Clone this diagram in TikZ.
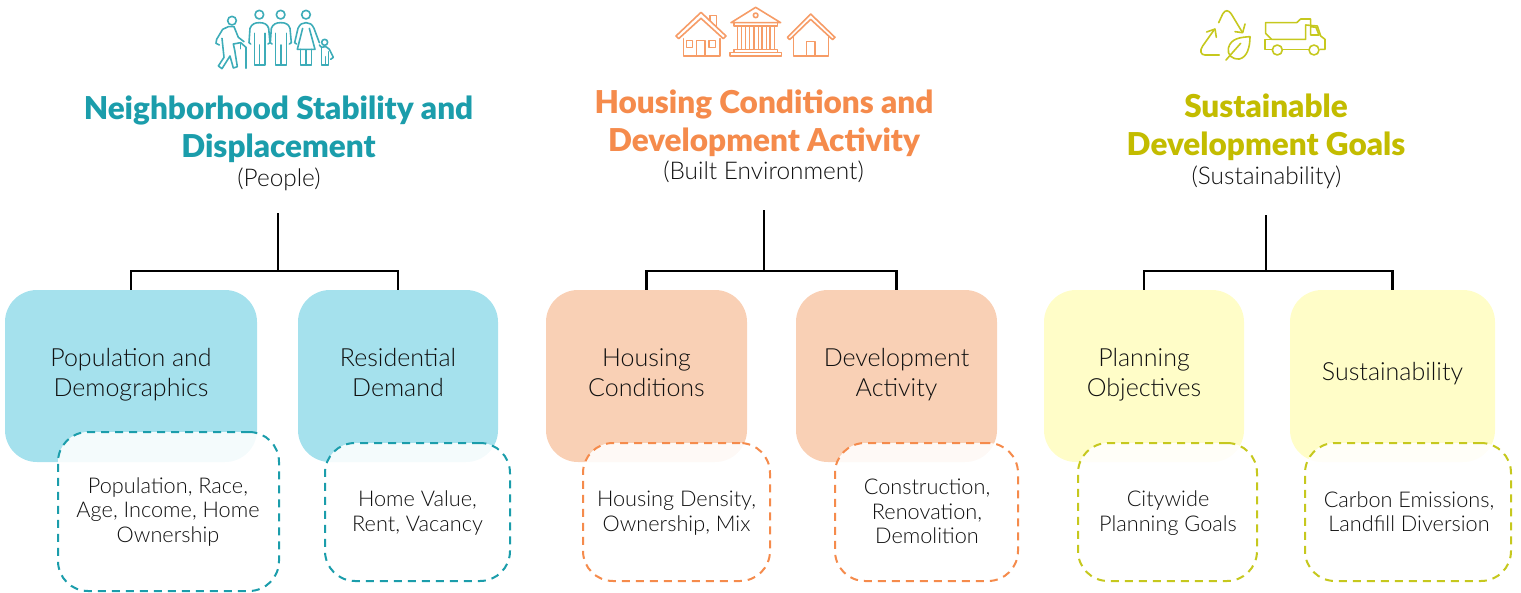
\documentclass[tikz,border=0pt]{standalone}
\usepackage{fontspec}
\setmainfont{Lato Light}
\newfontfamily\titlef{Lato Black}
\definecolor{tealc}{HTML}{1B9DAB}
\definecolor{orangec}{HTML}{F58B4C}
\definecolor{yellowc}{HTML}{C3BC00}
\definecolor{dashy}{HTML}{C6C81E}
\definecolor{lteal}{HTML}{A5E1ED}
\definecolor{lorange}{HTML}{F9D0B5}
\definecolor{lyellow}{HTML}{FFFDC8}
\definecolor{textc}{HTML}{101010}
\newcommand{\twol}[2]{\rule{0pt}{24pt}#1\\#2\rule[-14pt]{0pt}{14pt}}
\newcommand{\onel}[1]{\rule{0pt}{22pt}#1\rule[-14pt]{0pt}{14pt}}
\tikzset{
 box/.style={rounded corners=32pt,inner sep=0pt,align=center,text=textc,font=\fontsize{25}{30}\selectfont},
 dbox/.style={rounded corners=30pt,inner sep=0pt,draw,line width=2pt,dash pattern=on 8pt off 6pt,fill=white,fill opacity=.88},
 dtext/.style={align=center,text=textc,font=\fontsize{21.7}{24.5}\selectfont,inner sep=0pt},
 ttl/.style={align=center,font=\titlef\fontsize{31.5}{38}\selectfont,inner sep=0pt},
 sub/.style={align=center,text=textc,font=\fontsize{24.4}{28}\selectfont,inner sep=0pt},
 conn/.style={draw=black,line width=2.4pt},
 icon/.style={line width=1.6pt,line cap=round,line join=round,fill=none},
}
\begin{document}
\begin{tikzpicture}[x=1pt,y=-1pt]
\useasboundingbox (0,0) rectangle (1521,592);
% solid boxes
\node[box,fill=lteal,minimum width=252pt,minimum height=172pt] (a1) at (131,376) {\twol{Population and}{Demographics}};
\node[box,fill=lteal,minimum width=200pt,minimum height=172pt] (a2) at (398,376) {\twol{Residential}{Demand}};
\node[box,fill=lorange,minimum width=201pt,minimum height=172pt] (b1) at (646.5,376) {\twol{Housing}{Conditions}};
\node[box,fill=lorange,minimum width=201pt,minimum height=172pt] (b2) at (896.5,376) {\twol{Development}{Activity}};
\node[box,fill=lyellow,minimum width=200pt,minimum height=172pt] (c1) at (1144,376) {\twol{Planning}{Objectives}};
\node[box,fill=lyellow,minimum width=205pt,minimum height=172pt] (c2) at (1392.5,376) {\onel{Sustainability}};
% dashed boxes
\node[dbox,draw=tealc,minimum width=221pt,minimum height=159pt] (a1d) at (168.5,511.5) {};
\node[dbox,draw=tealc,minimum width=185pt,minimum height=138pt] (a2d) at (417.5,512) {};
\node[dbox,draw=orangec,minimum width=187pt,minimum height=138pt] (b1d) at (676.5,512) {};
\node[dbox,draw=orangec,minimum width=183pt,minimum height=138pt] (b2d) at (926.5,512) {};
\node[dbox,draw=dashy,minimum width=179pt,minimum height=138pt] (c1d) at (1167.5,512) {};
\node[dbox,draw=dashy,minimum width=206pt,minimum height=138pt] (c2d) at (1408,512) {};
% dashed box labels
\node[dtext] (a1t) at (168,512) {Population, Race,\\Age, Income, Home\\Ownership};
\node[dtext] (a2t) at (417.5,513) {Home Value,\\Rent, Vacancy};
\node[dtext] (b1t) at (676.5,513) {Housing Density,\\Ownership, Mix};
\node[dtext] (b2t) at (927,511.5) {Construction,\\Renovation,\\Demolition};
\node[dtext] (c1t) at (1168,513) {Citywide\\Planning Goals};
\node[dtext] (c2t) at (1409,511.5) {Carbon Emissions,\\Landfill Diversion};
% titles
\node[ttl,text=tealc] (at) at (278.5,129) {Neighborhood Stability and\\Displacement};
\node[sub] (as) at (279,179) {(People)};
\node[ttl,text=orangec] (bt) at (764,123) {Housing Conditions and\\Development Activity};
\node[sub] (bs) at (763.5,172) {(Built Environment)};
\node[ttl,text=yellowc] (ct) at (1266,127) {Sustainable\\Development Goals};
\node[sub] (cs) at (1266.5,177) {(Sustainability)};
% connectors
\coordinate (atop) at (278,213); \coordinate (aj) at (278,271);
\coordinate (btop) at (764,210); \coordinate (bj) at (764,271);
\coordinate (ctop) at (1266,215); \coordinate (cj) at (1266,271);
\draw[conn] (atop) -- (aj);
\draw[conn] (a1.north) |- (aj) -| (a2.north);
\draw[conn] (btop) -- (bj);
\draw[conn] (b1.north) |- (bj) -| (b2.north);
\draw[conn] (ctop) -- (cj);
\draw[conn] (c1.north) |- (cj) -| (c2.north);
% people icon
\begin{scope}[shift={(200,0)},x=.3333pt,y=-.3333pt,icon,draw=tealc!85!white]
\draw (96,62) circle[radius=13];
\draw (58,135) -- (48,130) -- (50,118) -- (68,88) -- (85,80) -- (102,80) -- (115,112) -- (132,125);
\draw (66,115) -- (72,172) -- (55,198) -- (66,206) -- (90,168) -- (100,204) -- (112,200) -- (104,150) -- (100,132) -- (122,128);
\draw (138,205) -- (138,142) -- (122,128);
\draw (122,128) -- (122,146);
\foreach \dx in {0,64}{
\draw (178+\dx,44) circle[radius=13];
\draw (152+\dx,132) -- (147+\dx,128) -- (150+\dx,85) .. controls (155+\dx,72) and (165+\dx,68) .. (178+\dx,68) .. controls (192+\dx,68) and (202+\dx,72) .. (206+\dx,85) -- (210+\dx,128) -- (204+\dx,132);
\draw (163+\dx,100) -- (163+\dx,195) -- (195+\dx,195) -- (195+\dx,100);
\draw (179+\dx,135) -- (179+\dx,195);
}
\draw (318,44) circle[radius=13];
\draw (290,132) -- (284,128) -- (294,85) .. controls (300,72) and (308,68) .. (318,68) .. controls (328,68) and (336,72) .. (342,85) -- (358,128);
\draw (308,85) -- (292,148) -- (345,148) -- (328,85);
\draw (302,148) -- (302,195) -- (335,195) -- (335,148);
\draw (318,150) -- (318,195);
\draw (374,127) circle[radius=9];
\draw (358,135) -- (365,142) .. controls (375,139) and (385,140) .. (388,148) -- (400,172) -- (392,178);
\draw (365,142) -- (365,195) -- (386,195) -- (386,155);
\draw (376,170) -- (376,195);
\end{scope}
% houses and bank icon
\begin{scope}[shift={(660,0)},x=.3333pt,y=-.3333pt,icon,draw=orangec!85!white]
\draw (48,108) -- (123,37) -- (198,108) -- (190,116) -- (123,55) -- (56,116) -- cycle;
\draw (150,62) -- (150,46) -- (170,46) -- (170,80);
\draw (70,116) -- (70,168) -- (180,168) -- (180,116);
\draw (110,168) -- (110,122) -- (135,122) -- (135,168);
\draw (80,122) rectangle (98,142);
\draw (147,122) rectangle (167,142);
\draw (213,68) -- (287,22) -- (362,68) -- cycle;
\draw (287,46) circle[radius=7];
\draw (222,68) rectangle (352,78);
\foreach \cx in {232,256,282,306,330}{\draw (\cx,80) rectangle (\cx+13,148);}
\draw (222,148) rectangle (352,158);
\draw (210,158) rectangle (364,168);
\draw (382,112) -- (452,42) -- (525,112) -- (518,119) -- (452,58) -- (389,119) -- cycle;
\draw (400,110) -- (400,168) -- (505,168) -- (505,110);
\draw (440,168) -- (440,124) -- (465,124) -- (465,168);
\end{scope}
% recycling and truck icon
\begin{scope}[shift={(1190,0)},x=.3333pt,y=-.3333pt,icon,draw=dashy]
\draw (88,165) -- (45,165) .. controls (32,165) and (28,152) .. (38,138) -- (72,90);
\draw (50,96) -- (75,87) -- (79,112);
\draw (86,68) -- (98,42) .. controls (106,28) and (116,30) .. (124,42) -- (157,97);
\draw (135,95) -- (158,98) -- (165,72);
\draw (180,110) .. controls (150,112) and (122,115) .. (115,145) .. controls (112,165) and (125,178) .. (148,177) .. controls (172,172) and (180,140) .. (180,110) -- cycle;
\draw (108,180) -- (152,130);
\draw (227,68) -- (320,68) -- (332,57) -- (362,57) -- (362,74);
\draw (227,68) -- (227,100) -- (245,118) -- (347,118) -- (347,75) -- (382,78) -- (392,108) -- (405,118) -- (405,148) -- (390,148);
\draw (362,80) -- (378,82) -- (387,105) -- (362,105) -- cycle;
\draw (245,118) -- (225,118) -- (225,148) -- (246,148);
\draw (262,150) circle[radius=15];
\draw (372,150) circle[radius=15];
\draw (278,148) -- (356,148);
\end{scope}
\end{tikzpicture}
\end{document}
